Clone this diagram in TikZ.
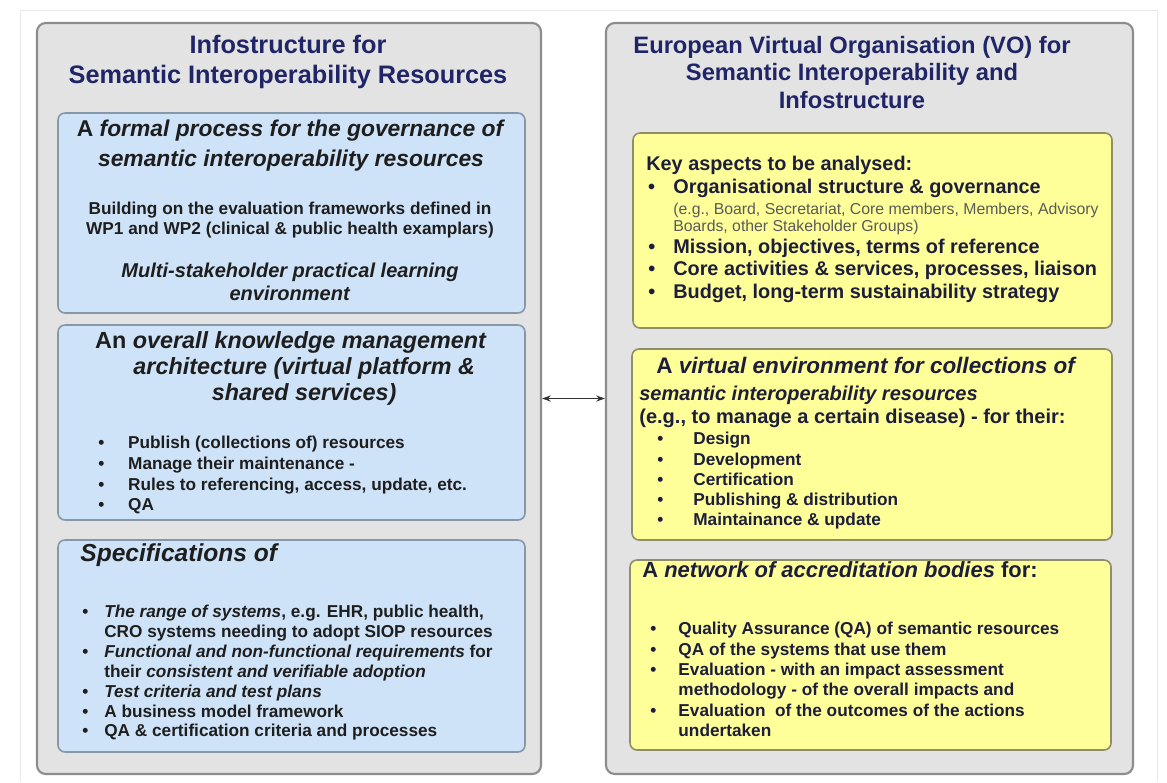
\documentclass[tikz,border=0pt]{standalone}
\usepackage{fontspec}
\setmainfont{Liberation Sans}
\usetikzlibrary{fit,arrows.meta}

\definecolor{panelgray}{HTML}{E3E3E3}
\definecolor{panelline}{HTML}{8C8C8C}
\definecolor{framegray}{HTML}{E9E9E9}
\definecolor{boxblue}{HTML}{CFE3F8}
\definecolor{blueline}{HTML}{8797AA}
\definecolor{boxyellow}{HTML}{FFFF99}
\definecolor{yellowline}{HTML}{8E8E6A}
\definecolor{titlenavy}{HTML}{1F2566}
\definecolor{bodyink}{HTML}{1E1E1E}
\definecolor{yellowink}{HTML}{1D1D3C}
\definecolor{noteink}{HTML}{5A5A5A}
\definecolor{arrowgray}{HTML}{333333}

% bullet of a given width, text follows it
\newcommand{\bl}[1]{\makebox[#1][l]{\textbullet}}

\tikzset{
  panel/.style={draw=panelline, line width=1.2pt, fill=panelgray, rounded corners=5pt, inner sep=0pt},
  bluebox/.style={draw=blueline, line width=0.9pt, fill=boxblue, rounded corners=4pt, inner sep=0pt},
  yellowbox/.style={draw=yellowline, line width=0.9pt, fill=boxyellow, rounded corners=4pt, inner sep=0pt},
  txt/.style 2 args={font=\fontsize{#1}{#2}\selectfont\bfseries, inner sep=0pt, text=bodyink},
  heading/.style 2 args={txt={#1}{#2}, text=titlenavy, align=center, anchor=north},
  note/.style={font=\fontsize{9}{9.7}\selectfont, inner sep=0pt, text=noteink, align=left, anchor=north west},
  link/.style={<->, >={Stealth[length=5pt,width=3.5pt]}, draw=arrowgray, line width=0.6pt}
}

\begin{document}
\begin{tikzpicture}[x=0.02cm, y=-0.02cm]
	%%%%% START %%%%%
	\useasboundingbox (0,0) rectangle (1167,782);
	\fill[white] (0,0) rectangle (1167,782);
	\draw[framegray] (20,782) -- (20,10) -- (1157,10) -- (1157,782);
	
	%%%%% left: infostructure %%%%%
	\node[panel, fit={(37,23) (541,774)}] (infopanel) {};
	\node[heading={14.4}{17}] (infotitle) at (288,35) {Infostructure for\\Semantic Interoperability Resources};
	
	\node[bluebox, fit={(58,113) (525,313)}] (governance) {};
	\node[txt={13}{17}, align=center, anchor=north] (govhead) at (291,119.3)
		{A \textit{formal process for the governance of}\\\textit{semantic interoperability resources}};
	\node[txt={9.8}{11.4}, align=center, anchor=north] (govbody) at (290,201.9)
		{Building on the evaluation frameworks defined in\\WP1 and WP2 (clinical \& public health examplars)};
	\node[txt={11.4}{13}, align=center, anchor=north] (govlearn) at (290,262.6)
		{\textit{Multi-stakeholder practical learning}\\\textit{environment}};
	
	\node[bluebox, fit={(58,325) (525,520)}] (knowledge) {};
	\node[txt={13.3}{14.8}, align=center, anchor=north] (knowhead) at (291,331)
		{An \textit{overall knowledge management}\\\hspace*{15pt}\textit{architecture (virtual platform \&}\\\hspace*{15pt}\textit{shared services)}};
	\node[txt={9.8}{11.8}, align=left, anchor=north west] (knowlist) at (98,435.9)
		{\bl{17pt}Publish (collections of) resources\\
		 \bl{17pt}Manage their maintenance -\\
		 \bl{17pt}Rules to referencing, access, update, etc.\\
		 \bl{17pt}QA};
	
	\node[bluebox, fit={(58,540) (525,752)}] (specs) {};
	\node[txt={14}{16}, anchor=north west] (spechead) at (80,543.4) {\textit{Specifications of}};
	\node[txt={9.8}{11.3}, align=left, anchor=north west] (speclist) at (82,604.9)
		{\bl{12.5pt}\textit{The range of systems}, e.g. EHR, public health,\\
		 \hspace*{12.5pt}CRO systems needing to adopt SIOP resources\\
		 \bl{12.5pt}\textit{Functional and non-functional requirements} for\\
		 \hspace*{12.5pt}their \textit{consistent and verifiable adoption}\\
		 \bl{12.5pt}\textit{Test criteria and test plans}\\
		 \bl{12.5pt}A business model framework\\
		 \bl{12.5pt}QA \& certification criteria and processes};
	
	%%%%% right: virtual organisation %%%%%
	\node[panel, fit={(606,23) (1133,774)}] (vopanel) {};
	\node[heading={13.5}{15.6}] (votitle) at (852,35.8)
		{European Virtual Organisation (VO) for\\Semantic Interoperability and\\Infostructure};
	
	\node[yellowbox, fit={(633,133) (1112,328)}] (keyaspects) {};
	\node[txt={11.3}{13.1}, text=yellowink, align=left, anchor=north west] (keyhead) at (646,155.7)
		{Key aspects to be analysed:\\\hspace*{1pt}\bl{14.4pt}Organisational structure \& governance};
	\node[note] (keynote) at (673,202.6)
		{(e.g., Board, Secretariat, Core members, Members, Advisory\\Boards, other Stakeholder Groups)};
	\node[txt={11.3}{12.8}, text=yellowink, align=left, anchor=north west] (keylist) at (648,238.7)
		{\bl{14.2pt}Mission, objectives, terms of reference\\
		 \bl{14.2pt}Core activities \& services, processes, liaison\\
		 \bl{14.2pt}Budget, long-term sustainability strategy};
	
	\node[yellowbox, fit={(632,349) (1112,540)}] (virtualenv) {};
	\node[txt={12.8}{14}, text=yellowink, anchor=north west] (venvhead) at (656,356.4)
		{A \textit{virtual environment for collections of}};
	\node[txt={11.4}{13}, text=yellowink, align=left, anchor=north west] (venvsub) at (639,385.6)
		{\textit{semantic interoperability resources}\\(e.g., to manage a certain disease) - for their:};
	\node[txt={9.8}{11.55}, text=yellowink, align=left, anchor=north west] (venvlist) at (657,431.9)
		{\bl{20.5pt}Design\\
		 \bl{20.5pt}Development\\
		 \bl{20.5pt}Certification\\
		 \bl{20.5pt}Publishing \& distribution\\
		 \bl{20.5pt}Maintainance \& update};
	
	\node[yellowbox, fit={(630,560) (1111,750)}] (accreditation) {};
	\node[txt={12.5}{14}, text=yellowink, anchor=north west] (netwhead) at (642,561.7)
		{A \textit{network of accreditation bodies} for:};
	\node[txt={9.8}{11.6}, text=yellowink, align=left, anchor=north west] (netwlist) at (650,621.9)
		{\bl{16pt}Quality Assurance (QA) of semantic resources\\
		 \bl{16pt}QA of the systems that use them\\
		 \bl{16pt}Evaluation - with an impact assessment\\
		 \hspace*{16pt}methodology - of the overall impacts and\\
		 \bl{16pt}Evaluation~ of the outcomes of the actions\\
		 \hspace*{16pt}undertaken};
	
	%%%%% link between the two panels %%%%%
	\draw[link] (infopanel) -- (vopanel);
	%%%%% END %%%%%
\end{tikzpicture}
\end{document}
